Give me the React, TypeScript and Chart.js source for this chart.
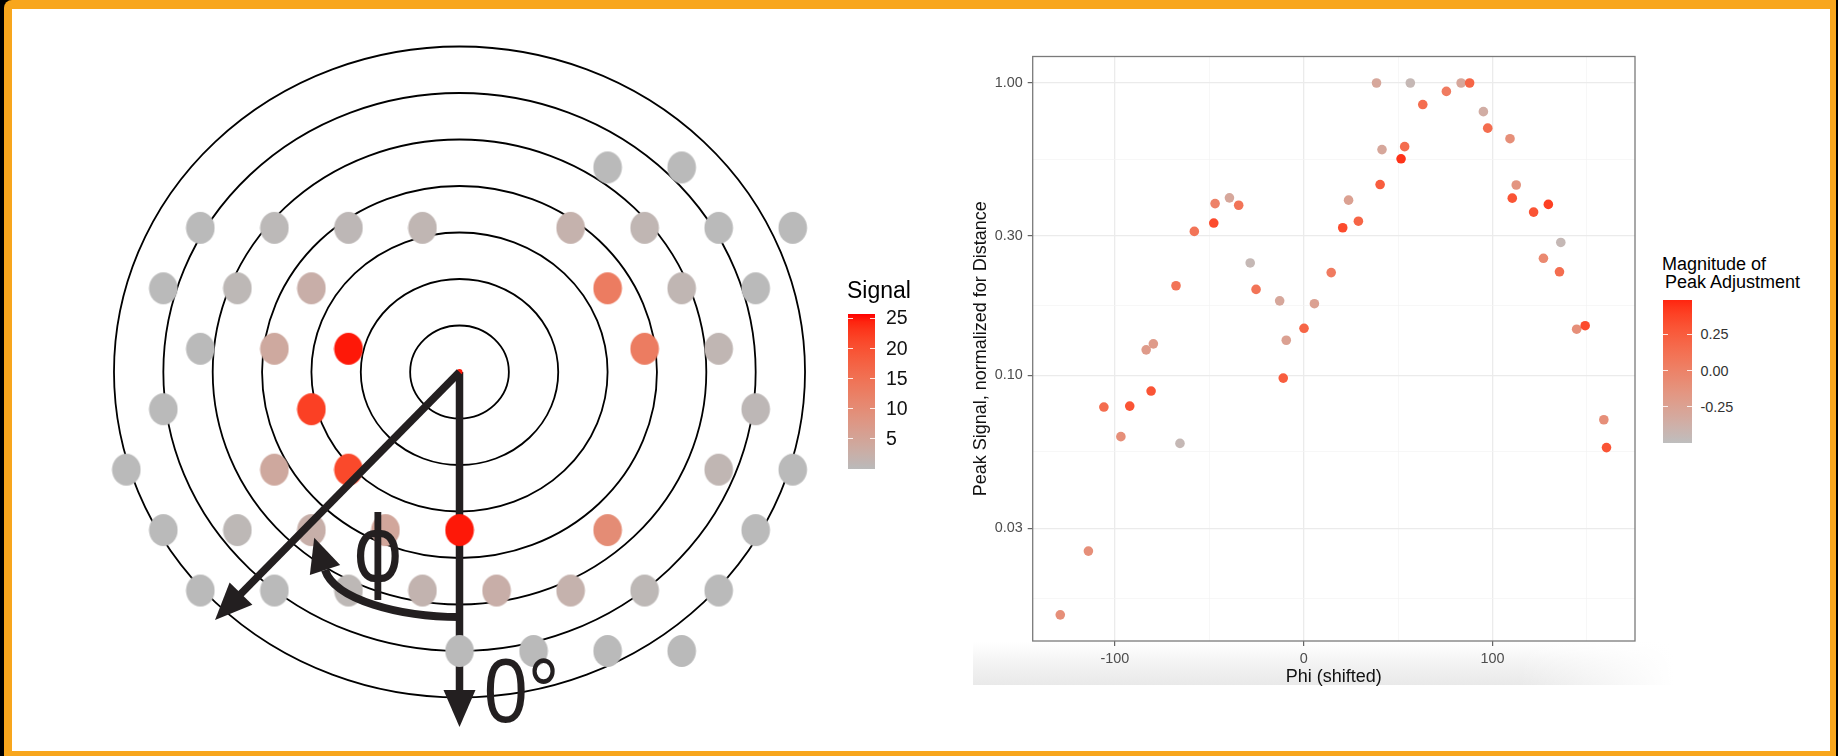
import React, { useEffect, useRef } from "react";
import { Chart, registerables } from "chart.js";

Chart.register(...registerables);

// ================= Left panel: detector ring diagram =================
const ringRadii = [1, 2, 3, 4, 5, 6, 7];
// hex-grid row index (down positive) and column (in dot spacings) of every detector dot
const dotRow = [
  -3, -3,
  -2, -2, -2, -2, -2, -2, -2, -2,
  -1, -1, -1, -1, -1, -1,
  0, 0, 0, 0, 0,
  1, 1, 1,
  2, 2, 2, 2, 2,
  3, 3, 3, 3, 3, 3, 3,
  4, 4, 4, 4, 4, 4, 4, 4,
  5, 5, 5, 5,
];
const dotCol = [
  2, 3,
  -3.5, -2.5, -1.5, -0.5, 1.5, 2.5, 3.5, 4.5,
  -4, -3, -2, 2, 3, 4,
  -3.5, -2.5, -1.5, 2.5, 3.5,
  -4, -2, 4,
  -4.5, -2.5, -1.5, 3.5, 4.5,
  -4, -3, -2, -1, 0, 2, 4,
  -3.5, -2.5, -1.5, -0.5, 0.5, 1.5, 2.5, 3.5,
  0, 1, 2, 3,
];
const dotSignal = [
  0, 0,
  0, 0.3, 0.6, 1, 1.9, 1, 0, 0,
  0, 0.5, 2.6, 13, 1, 0,
  0, 3.9, 25, 13, 1,
  0, 22, 0.6,
  0, 4, 21, 1, 0,
  0, 0.5, 2.4, 4.5, 25, 10, 0,
  0, 0, 0.5, 1.5, 2.6, 1.9, 0.5, 0,
  0, 0, 0, 0,
];
const signalTicks = [5, 10, 15, 20, 25];
const signalRange = [0, 25.7];

// ================= Right panel: scatter =================
const phiShifted = [
  -128.9, -114.0, -105.8, -92.1, -96.8, -83.4, -79.6, -80.8, -67.6, -65.5,
  -57.9, -47.6, -46.9, -39.3, -34.4, -28.3, -25.2, -12.7, -9.2, -10.8,
  0.2, 5.7, 14.6, 20.7, 23.8, 29.0, 38.6, 40.5, 41.5, 51.6,
  53.5, 56.5, 63.1, 75.6, 83.4, 87.9, 95.2, 97.5, 109.3, 110.5,
  112.6, 121.8, 129.6, 127.0, 136.2, 135.5, 144.6, 149.1, 159.0, 160.4,
];
const peakSignal = [
  0.0152, 0.0251, 0.078, 0.0786, 0.0618, 0.1224, 0.1283, 0.0885, 0.2027, 0.0586,
  0.311, 0.332, 0.387, 0.405, 0.382, 0.2425, 0.197, 0.18, 0.132, 0.098,
  0.145, 0.176, 0.2248, 0.32, 0.3976, 0.337, 1.0, 0.4496, 0.592, 0.5506,
  0.606, 1.0, 0.844, 0.936, 1.0, 1.0, 0.798, 0.701, 0.645, 0.404,
  0.448, 0.362, 0.3846, 0.2516, 0.285, 0.2262, 0.144, 0.148, 0.0706, 0.0567,
];
const peakAdjustment = [
  -0.1, -0.1, 0.15, 0.3, -0.1, -0.2, -0.2, 0.3, 0.1, -0.45,
  0.1, 0.35, 0.0, -0.3, 0.1, -0.45, 0.1, -0.3, -0.25, 0.25,
  0.2, -0.25, 0.05, 0.35, -0.25, 0.2, -0.3, 0.25, -0.3, 0.45,
  0.15, -0.45, 0.15, 0.05, -0.3, 0.2, -0.35, 0.15, -0.1, 0.3,
  -0.15, 0.3, 0.4, -0.05, -0.45, 0.15, -0.1, 0.35, -0.1, 0.3,
];
const xMajorTicks = [-100, 0, 100];
const xMinorTicks = [-150, -50, 50, 150];
const yMajorTicks = [1.0, 0.3, 0.1, 0.03];
const yTickLabels = ["1.00", "0.30", "0.10", "0.03"];
const yMinorTicks = [0.5477, 0.1732, 0.05477, 0.01732];
const adjustmentTicks = [0.25, 0.0, -0.25];
const adjustmentLabels = ["0.25", "0.00", "-0.25"];
const adjustmentRange = [-0.5, 0.49];

// ================= helpers =================
const FONT = "'Liberation Sans', Arial, Helvetica, sans-serif";
const INK = "#231f20";

function hexToRgb(hex: string): number[] {
  const h = hex.replace("#", "");
  return [0, 2, 4].map((i) => parseInt(h.slice(i, i + 2), 16));
}
function toLin(c: number) {
  const v = c / 255;
  return v <= 0.04045 ? v / 12.92 : Math.pow((v + 0.055) / 1.055, 2.4);
}
function fromLin(v: number) {
  const c = v <= 0.0031308 ? 12.92 * v : 1.055 * Math.pow(Math.max(v, 0), 1 / 2.4) - 0.055;
  return Math.round(Math.min(1, Math.max(0, c)) * 255);
}
const WX = 0.95047, WY = 1, WZ = 1.08883;
function rgbToLab(rgb: number[]) {
  const [r, g, b] = rgb.map(toLin);
  const x = (0.4124564 * r + 0.3575761 * g + 0.1804375 * b) / WX;
  const y = (0.2126729 * r + 0.7151522 * g + 0.072175 * b) / WY;
  const z = (0.0193339 * r + 0.119192 * g + 0.9503041 * b) / WZ;
  const f = (t: number) => (t > 216 / 24389 ? Math.cbrt(t) : ((24389 / 27) * t + 16) / 116);
  const fx = f(x), fy = f(y), fz = f(z);
  return [116 * fy - 16, 500 * (fx - fy), 200 * (fy - fz)];
}
function labToRgb(lab: number[]) {
  const [L, a, b] = lab;
  const fy = (L + 16) / 116, fx = fy + a / 500, fz = fy - b / 200;
  const inv = (t: number) => (t * t * t > 216 / 24389 ? t * t * t : (116 * t - 16) / (24389 / 27));
  const x = inv(fx) * WX, y = inv(fy) * WY, z = inv(fz) * WZ;
  const r = 3.2404542 * x - 1.5371385 * y - 0.4985314 * z;
  const g = -0.969266 * x + 1.8760108 * y + 0.041556 * z;
  const bl = 0.0556434 * x - 0.2040259 * y + 1.0572252 * z;
  return [fromLin(r), fromLin(g), fromLin(bl)];
}
function ramp(low: string, high: string, t: number) {
  const tt = Math.min(1, Math.max(0, t));
  const A = rgbToLab(hexToRgb(low)), B = rgbToLab(hexToRgb(high));
  const [r, g, b] = labToRgb(A.map((v, i) => v + (B[i] - v) * tt));
  return `rgb(${r},${g},${b})`;
}
function gradientCss(low: string, high: string) {
  const stops: string[] = [];
  for (let i = 0; i <= 20; i++) stops.push(`${ramp(low, high, i / 20)} ${(i / 20) * 100}%`);
  return `linear-gradient(to top, ${stops.join(", ")})`;
}

const SIGNAL_LOW = "#bababa";
const SIGNAL_HIGH = "#ff0000";
const ADJ_LOW = "#bebebe";
const ADJ_HIGH = "#ff2510";
const signalColor = (v: number) => ramp(SIGNAL_LOW, SIGNAL_HIGH, (v - signalRange[0]) / (signalRange[1] - signalRange[0]));
const adjColor = (v: number) => ramp(ADJ_LOW, ADJ_HIGH, (v - adjustmentRange[0]) / (adjustmentRange[1] - adjustmentRange[0]));

// diagram geometry (ring units)
const COL_STEP = 1.5;
const ROW_STEP = 1.3;
const ROW_OFFSET = 0.5;
const DOWN_TIP = { x: 0, y: -7.634 };
const DIAG_TIP = { x: -4.953, y: -5.333 };
const ARC_PTS = [
  { x: 0, y: -5.269 },
  { x: -1.205, y: -5.269 },
  { x: -2.522, y: -4.903 },
  { x: -2.725, y: -4.258 },
];
const PHI_POS = { x: -1.651, y: -4.5 };
const ZERO_POS = { x: 0.49, y: -7.527 };

function arrowHead(ctx: CanvasRenderingContext2D, bx: number, by: number, ux: number, uy: number, len: number, half: number) {
  ctx.beginPath();
  ctx.moveTo(bx + ux * len, by + uy * len);
  ctx.lineTo(bx - uy * half, by + ux * half);
  ctx.lineTo(bx + uy * half, by - ux * half);
  ctx.closePath();
  ctx.fill();
}
function straightArrow(ctx: CanvasRenderingContext2D, x0: number, y0: number, x1: number, y1: number) {
  const L = Math.hypot(x1 - x0, y1 - y0);
  const ux = (x1 - x0) / L, uy = (y1 - y0) / L;
  const head = 37;
  const bx = x1 - ux * head, by = y1 - uy * head;
  ctx.lineWidth = 7.5;
  ctx.lineCap = "butt";
  ctx.beginPath();
  ctx.moveTo(x0, y0);
  ctx.lineTo(bx + ux * 2, by + uy * 2);
  ctx.stroke();
  arrowHead(ctx, bx, by, ux, uy, head, 16);
}
function squeezedText(ctx: CanvasRenderingContext2D, text: string, x: number, y: number, font: string, sx: number, align: CanvasTextAlign) {
  ctx.save();
  ctx.translate(x, y);
  ctx.scale(sx, 1);
  ctx.font = font;
  ctx.textAlign = align;
  ctx.textBaseline = "alphabetic";
  ctx.fillText(text, 0, 0);
  ctx.restore();
}

function spriteFor(color: string, cache: Map<string, HTMLCanvasElement>) {
  let c = cache.get(color);
  if (!c) {
    c = document.createElement("canvas");
    c.width = 30;
    c.height = 34;
    const g = c.getContext("2d")!;
    g.fillStyle = color;
    g.beginPath();
    g.ellipse(15, 17, 14.3, 16, 0, 0, Math.PI * 2);
    g.fill();
    cache.set(color, c);
  }
  return c;
}

function LeftDiagram() {
  const ref = useRef<HTMLCanvasElement>(null);
  useEffect(() => {
    const cv = ref.current!;
    const cache = new Map<string, HTMLCanvasElement>();
    const colors = dotSignal.map(signalColor);
    const plugin = {
      id: "diagram",
      beforeDatasetsDraw(chart: any) {
        const ctx = chart.ctx as CanvasRenderingContext2D;
        const xs = chart.scales.x, ys = chart.scales.y;
        const cx = xs.getPixelForValue(0), cy = ys.getPixelForValue(0);
        ctx.save();
        ctx.strokeStyle = "#000";
        ctx.lineWidth = 1.8;
        ringRadii.forEach((r) => {
          const rx = xs.getPixelForValue(r) - cx;
          const ry = cy - ys.getPixelForValue(r);
          ctx.beginPath();
          ctx.ellipse(cx, cy, rx, ry, 0, 0, Math.PI * 2);
          ctx.stroke();
        });
        ctx.strokeStyle = INK;
        ctx.fillStyle = INK;
        straightArrow(ctx, cx, cy, xs.getPixelForValue(DOWN_TIP.x), ys.getPixelForValue(DOWN_TIP.y));
        ctx.restore();
      },
      afterDatasetsDraw(chart: any) {
        const ctx = chart.ctx as CanvasRenderingContext2D;
        const xs = chart.scales.x, ys = chart.scales.y;
        const X = (v: number) => xs.getPixelForValue(v);
        const Y = (v: number) => ys.getPixelForValue(v);
        ctx.save();
        ctx.strokeStyle = INK;
        ctx.fillStyle = INK;
        straightArrow(ctx, X(0), Y(0), X(DIAG_TIP.x), Y(DIAG_TIP.y));
        const P = ARC_PTS.map((p) => [X(p.x), Y(p.y)]);
        ctx.lineWidth = 8;
        ctx.beginPath();
        ctx.moveTo(P[0][0], P[0][1]);
        ctx.bezierCurveTo(P[1][0], P[1][1], P[2][0], P[2][1], P[3][0], P[3][1]);
        ctx.stroke();
        const dx = P[3][0] - P[2][0], dy = P[3][1] - P[2][1];
        const L = Math.hypot(dx, dy);
        arrowHead(ctx, P[3][0], P[3][1], dx / L, dy / L, 34, 16);
        squeezedText(ctx, "ϕ", X(PHI_POS.x), Y(PHI_POS.y), `90px 'DejaVu Sans', ${FONT}`, 0.85, "center");
        squeezedText(ctx, "0°", X(ZERO_POS.x), Y(ZERO_POS.y), `90px ${FONT}`, 0.88, "left");
        ctx.restore();
      },
    };
    const chart = new Chart(cv, {
      type: "scatter",
      data: {
        datasets: [
          {
            data: dotCol.map((c, i) => ({ x: c * COL_STEP, y: ROW_OFFSET - dotRow[i] * ROW_STEP })),
            pointStyle: colors.map((c) => spriteFor(c, cache)) as any,
            pointRadius: 15,
            backgroundColor: colors,
            borderWidth: 0,
          },
          {
            data: [{ x: 0, y: 0 }],
            pointStyle: "circle",
            pointRadius: 3,
            backgroundColor: signalColor(25),
            borderWidth: 0,
          },
        ],
      },
      options: {
        responsive: false,
        animation: false,
        devicePixelRatio: 1,
        events: [],
        layout: { padding: 0, autoPadding: false },
        plugins: { legend: { display: false }, tooltip: { enabled: false } },
        scales: {
          x: { type: "linear", display: false, min: -8.904, max: 8.924 },
          y: { type: "linear", display: false, min: -7.914, max: 7.57 },
        },
      },
      plugins: [plugin],
    } as any);
    return () => chart.destroy();
  }, []);
  return (
    <canvas
      ref={ref}
      width={880}
      height={720}
      style={{ position: "absolute", left: 20, top: 20, width: 880, height: 720 }}
    />
  );
}

const near = (a: number, list: number[]) => list.findIndex((b) => Math.abs(a - b) < 1e-9);

function RightScatter() {
  const ref = useRef<HTMLCanvasElement>(null);
  useEffect(() => {
    const cv = ref.current!;
    const X_MIN = -143.5, X_MAX = 175.5;
    const Y_MIN = 0.01237, Y_MAX = 1.232;
    const xGrid = [...xMajorTicks, ...xMinorTicks].filter((v) => v >= X_MIN && v <= X_MAX).sort((a, b) => a - b);
    const yGrid = [...yMajorTicks, ...yMinorTicks].filter((v) => v >= Y_MIN && v <= Y_MAX).sort((a, b) => a - b);
    const border = {
      id: "panelBorder",
      afterDraw(chart: any) {
        const { left, top, right, bottom } = chart.chartArea;
        const ctx = chart.ctx as CanvasRenderingContext2D;
        ctx.save();
        ctx.strokeStyle = "#7a7a7a";
        ctx.lineWidth = 1.3;
        ctx.strokeRect(left, top, right - left, bottom - top);
        ctx.restore();
      },
    };
    const gridOpts = (majors: number[]) => ({
      color: (c: any) => (c.tick && near(c.tick.value, majors) >= 0 ? "#ebebeb" : "#f4f4f4"),
      lineWidth: (c: any) => (c.tick && near(c.tick.value, majors) >= 0 ? 1.3 : 0.7),
      tickColor: (c: any) => (c.tick && near(c.tick.value, majors) >= 0 ? "#555555" : "rgba(0,0,0,0)"),
      tickLength: 5,
      tickWidth: 1.1,
    });
    const chart = new Chart(cv, {
      type: "scatter",
      data: {
        datasets: [
          {
            data: phiShifted.map((x, i) => ({ x, y: peakSignal[i] })),
            pointRadius: 4.8,
            pointBackgroundColor: peakAdjustment.map(adjColor),
            pointBorderWidth: 0,
            borderWidth: 0,
          },
        ],
      },
      options: {
        responsive: false,
        animation: false,
        devicePixelRatio: 1,
        events: [],
        layout: { padding: { top: 16.5, right: 25, bottom: 0, left: 0 }, autoPadding: false },
        plugins: { legend: { display: false }, tooltip: { enabled: false } },
        scales: {
          x: {
            type: "linear",
            position: "bottom",
            min: X_MIN,
            max: X_MAX,
            afterBuildTicks: (s: any) => {
              s.ticks = xGrid.map((v) => ({ value: v }));
            },
            afterFit: (s: any) => {
              s.height = 59;
            },
            ticks: {
              autoSkip: false,
              maxRotation: 0,
              padding: 4.6,
              color: "#4d4d4d",
              font: { family: FONT, size: 14.4 },
              callback: (v: any) => (near(Number(v), xMajorTicks) >= 0 ? String(v) : ""),
            },
            grid: gridOpts(xMajorTicks),
            border: { display: false },
            title: {
              display: true,
              text: "Phi (shifted)",
              color: "#111",
              font: { family: FONT, size: 18 },
              padding: { top: 0, bottom: 11.7 },
            },
          },
          y: {
            type: "logarithmic",
            position: "left",
            min: Y_MIN,
            max: Y_MAX,
            afterBuildTicks: (s: any) => {
              s.ticks = yGrid.map((v) => ({ value: v }));
            },
            afterFit: (s: any) => {
              s.width = 72.7;
            },
            ticks: {
              autoSkip: false,
              padding: 5,
              color: "#4d4d4d",
              font: { family: FONT, size: 14.4 },
              callback: (v: any) => {
                const i = near(Number(v), yMajorTicks);
                return i >= 0 ? yTickLabels[i] : "";
              },
            },
            grid: gridOpts(yMajorTicks),
            border: { display: false },
            title: {
              display: true,
              text: "Peak Signal, normalized for Distance",
              color: "#111",
              font: { family: FONT, size: 18 },
              padding: { top: 10.7, bottom: 0 },
            },
          },
        },
      },
      plugins: [border],
    } as any);
    return () => chart.destroy();
  }, []);
  return (
    <canvas
      ref={ref}
      width={700}
      height={660}
      style={{ position: "absolute", left: 960, top: 40, width: 700, height: 660 }}
    />
  );
}

function CenterText(props: { x: number; cy: number; size: number; text: string; color?: string }) {
  return (
    <div
      style={{
        position: "absolute",
        left: props.x,
        top: props.cy - props.size / 2,
        fontSize: props.size,
        lineHeight: `${props.size}px`,
        fontFamily: FONT,
        color: props.color || "#000",
        whiteSpace: "pre",
      }}
    >
      {props.text}
    </div>
  );
}
function BaselineText(props: { x: number; base: number; size: number; text: string; color?: string }) {
  return (
    <div
      style={{
        position: "absolute",
        left: props.x,
        top: props.base - 0.8465 * props.size,
        fontSize: props.size,
        lineHeight: `${props.size}px`,
        fontFamily: FONT,
        color: props.color || "#000",
        whiteSpace: "pre",
      }}
    >
      {props.text}
    </div>
  );
}

function ColorBar(props: {
  left: number; top: number; width: number; height: number; low: string; high: string;
  range: number[]; ticks: number[]; labels: string[]; labelX: number; labelSize: number; labelColor: string; tickLen: number;
}) {
  const { left, top, width, height, range, ticks } = props;
  const yOf = (v: number) => top + height - ((v - range[0]) / (range[1] - range[0])) * height;
  return (
    <>
      <div style={{ position: "absolute", left, top, width, height, background: gradientCss(props.low, props.high) }} />
      {ticks.map((t, i) => (
        <React.Fragment key={i}>
          <div style={{ position: "absolute", left, top: yOf(t) - 0.6, width: props.tickLen, height: 1.2, background: "rgba(255,255,255,0.85)" }} />
          <div style={{ position: "absolute", left: left + width - props.tickLen, top: yOf(t) - 0.6, width: props.tickLen, height: 1.2, background: "rgba(255,255,255,0.85)" }} />
          <CenterText x={props.labelX} cy={yOf(t)} size={props.labelSize} text={props.labels[i]} color={props.labelColor} />
        </React.Fragment>
      ))}
    </>
  );
}

export default function App() {
  return (
    <div style={{ position: "fixed", left: 0, top: 0, width: 1838, height: 756, background: "#000", overflow: "hidden" }}>
      <div style={{ position: "absolute", left: 4, top: 0, width: 1832, height: 756, background: "#f8a61d", borderTopLeftRadius: 8 }} />
      <div style={{ position: "absolute", left: 12, top: 9, width: 1818, height: 742, background: "#ffffff" }} />
      <div
        style={{
          position: "absolute",
          left: 973,
          top: 642,
          width: 700,
          height: 43,
          background:
            "linear-gradient(to right, rgba(255,255,255,0) 78%, rgba(255,255,255,1) 100%), linear-gradient(to bottom, #ffffff 0%, #f3f3f3 50%, #e9e9e9 100%)",
        }}
      />
      <LeftDiagram />
      <RightScatter />
      {/* Signal legend */}
      <BaselineText x={847} base={298} size={23} text="Signal" />
      <ColorBar
        left={848}
        top={314}
        width={27}
        height={155}
        low={SIGNAL_LOW}
        high={SIGNAL_HIGH}
        range={signalRange}
        ticks={signalTicks}
        labels={signalTicks.map(String)}
        labelX={886}
        labelSize={19.5}
        labelColor="#111"
        tickLen={5}
      />
      {/* Magnitude legend */}
      <BaselineText x={1662} base={270} size={18} text="Magnitude of" />
      <BaselineText x={1660} base={288.3} size={18} text=" Peak Adjustment" />
      <ColorBar
        left={1663}
        top={300}
        width={29}
        height={143}
        low={ADJ_LOW}
        high={ADJ_HIGH}
        range={adjustmentRange}
        ticks={adjustmentTicks}
        labels={adjustmentLabels}
        labelX={1700.5}
        labelSize={14.4}
        labelColor="#333"
        tickLen={5}
      />
    </div>
  );
}
